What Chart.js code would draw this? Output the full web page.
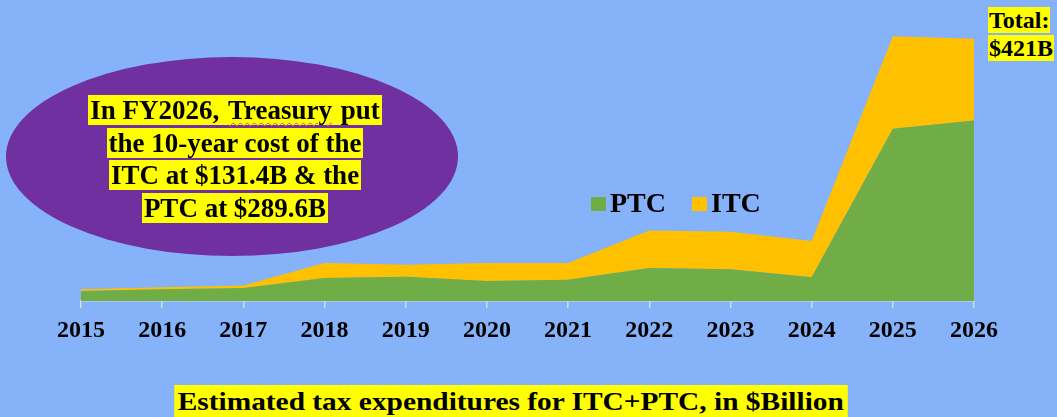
<!DOCTYPE html>
<html>
<head>
<meta charset="utf-8">
<script src="https://cdn.jsdelivr.net/npm/chart.js@4"></script>
<style>
  html, body { margin: 0; padding: 0; }
  body { width: 1057px; height: 417px; background: #86b2f9; position: relative; overflow: hidden;
         font-family: "Liberation Serif", "Times New Roman", serif; font-weight: bold; color: #000; }
  #wrap { position: absolute; left: 0; top: 0; width: 1057px; height: 417px; }
  .hl { background: #ffff00; }
  #oval { position: absolute; left: 6px; top: 57px; width: 452px; height: 199px; border-radius: 50%; background: #7030a0; }
  #note { position: absolute; left: 35px; top: 94px; width: 400px; text-align: center; font-size: 27px; line-height: 32.5px; }
  #note span { padding: 0 2px; }
  .sq { text-decoration: underline wavy #d05a5a 1px; text-underline-offset: 3px; }
  #legend { position: absolute; left: 591px; top: 187px; font-size: 28px; white-space: nowrap; }
  #legend .item { display: inline-block; margin-right: 26px; }
  #legend .box { display: inline-block; width: 15px; height: 14px; margin-right: 4px; vertical-align: 1px; }
  #total { position: absolute; left: 988px; top: 6px; font-size: 24px; line-height: 28px; }
  #total span { padding: 0 1px; }
  #title { position: absolute; left: 0; width: 1021px; top: 385px; text-align: center; font-size: 26px; line-height: 32px; }
  #title span { display: inline-block; padding: 1px 3px 4px; transform: scaleX(1.13); }
</style>
</head>
<body>
<div id="wrap"><canvas id="grafica" width="1057" height="417"></canvas></div>
<div id="oval"></div>
<div id="note">
  <span class="hl">In FY2026, <span class="sq">Treasury</span> put</span><br>
  <span class="hl">the 10-year cost of the</span><br>
  <span class="hl">ITC at $131.4B &amp; the</span><br>
  <span class="hl">PTC at $289.6B</span>
</div>
<div id="legend"></div>
<div id="total"><span class="hl">Total:</span><br><span class="hl">$421B</span></div>
<div id="title"><span class="hl">Estimated tax expenditures for ITC+PTC, in $Billion</span></div>
<script>
// fiscal years and estimated credits, $ billions
const anios = ['2015', '2016', '2017', '2018', '2019', '2020', '2021', '2022', '2023', '2024', '2025', '2026'];
const ptc = [1.6, 1.9, 2.1, 3.7, 3.9, 3.2, 3.4, 5.3, 5.1, 3.8, 27.6, 28.9];
const itc = [0.3, 0.3, 0.4, 2.4, 1.9, 2.9, 2.7, 6.0, 6.0, 5.8, 14.8, 13.1];

const verde = '#70ad47';
const naranja = '#ffc000';

const ctx = document.getElementById('grafica').getContext('2d');
const chart = new Chart(ctx, {
  type: 'line',
  data: {
    labels: anios,
    datasets: [
      { label: 'PTC', data: ptc, backgroundColor: verde, borderWidth: 0, fill: 'origin', pointRadius: 0 },
      { label: 'ITC', data: itc, backgroundColor: naranja, borderWidth: 0, fill: '-1', pointRadius: 0 }
    ]
  },
  options: {
    responsive: false,
    animation: false,
    layout: { padding: { left: 81, right: 83, top: 20, bottom: 80 } },
    elements: { line: { tension: 0 } },
    plugins: { legend: { display: false }, tooltip: { enabled: false } },
    scales: {
      x: {
        offset: false,
        grid: { drawOnChartArea: false, drawTicks: true, tickLength: 7, color: '#d6dbe6', lineWidth: 1.5 },
        border: { display: true, color: '#d6dbe6', width: 1.5 },
        ticks: { color: '#000', font: { family: '"Liberation Serif", serif', size: 24, weight: 'bold' }, padding: 8, maxRotation: 0 },
        afterFit: (s) => { s.height = 36; }
      },
      y: { display: false, stacked: true, min: 0, max: 45 }
    }
  }
});

// legend built from the datasets
const leyenda = document.getElementById('legend');
chart.data.datasets.forEach(ds => {
  const it = document.createElement('span');
  it.className = 'item';
  it.innerHTML = '<span class="box" style="background:' + ds.backgroundColor + '"></span>' + ds.label;
  leyenda.appendChild(it);
});
</script>
</body>
</html>
